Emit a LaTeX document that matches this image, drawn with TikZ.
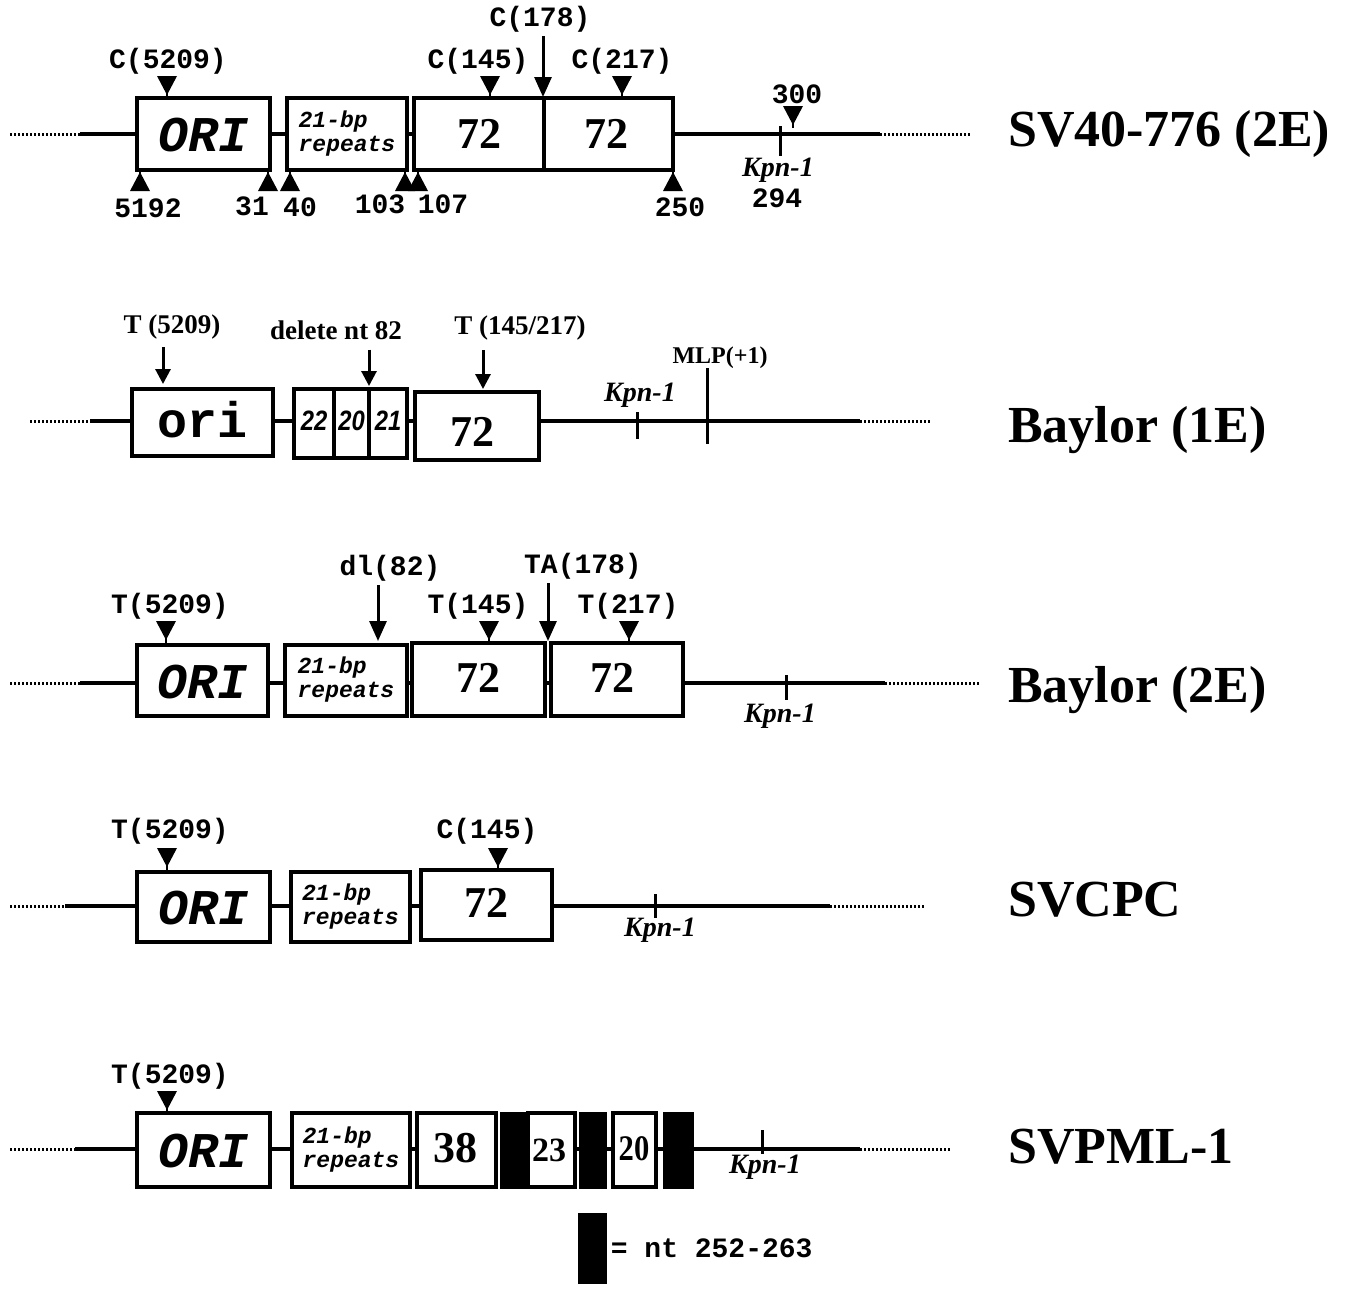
\documentclass[tikz,border=0pt]{standalone}
\usepackage{fontspec}
\setmainfont{Liberation Serif}
\newfontfamily\monofnt{Liberation Mono}
\newfontfamily\sansfnt{Liberation Sans}
\usetikzlibrary{arrows.meta}
\begin{document}
\begin{tikzpicture}[x=1pt,y=-1pt,
  box/.style={draw, line width=3.5pt, inner sep=0pt, outer sep=0pt, fill=white},
  blk/.style={draw, fill=black, line width=1pt, inner sep=0pt, outer sep=0pt},
  mainline/.style={line width=3.5pt},
  dotline/.style={line width=3pt, dash pattern=on 2pt off 2pt},
  tickl/.style={line width=3pt},
  clab/.style={font=\monofnt\bfseries\fontsize{28}{30}\selectfont, inner sep=0pt},
  tlab/.style={font=\bfseries\fontsize{27}{30}\selectfont, inner sep=0pt},
  kpn/.style={font=\bfseries\itshape\fontsize{28}{30}\selectfont, inner sep=0pt},
  oritxt/.style={font=\monofnt\bfseries\itshape\fontsize{50}{50}\selectfont},
  oriltxt/.style={font=\monofnt\bfseries\fontsize{50}{50}\selectfont},
  reptxt/.style={font=\monofnt\bfseries\itshape\fontsize{23}{24}\selectfont, align=left},
  numtxt/.style={font=\bfseries\fontsize{44}{44}\selectfont},
  cellno/.style={font=\sansfnt\bfseries\itshape\fontsize{28}{28}\selectfont, xscale=0.85},
  strainname/.style={font=\bfseries\fontsize{52}{54}\selectfont, anchor=west, inner sep=0pt},
  arr/.style={line width=3pt, -{Triangle[width=17pt,length=20pt]}},
  arrs/.style={line width=3pt, -{Triangle[width=15pt,length=15pt]}},
  dtri/.pic={\fill (-10,-22) -- (10,-22) -- (0,-3) -- cycle; \draw[line width=2pt] (0,-5) -- (0,0);},
  utri/.pic={\fill (-10,21) -- (10,21) -- (0,2) -- cycle; \draw[line width=2pt] (0,0) -- (0,4);}
]
\useasboundingbox[fill=white] (0,0) rectangle (1346,1288);

% ================= Row 1: SV40-776 (2E) =================
\node[box, minimum width=133pt, minimum height=72pt] (ori1) at (203.5,134) {};
\node[oritxt] (ori1t) at (203.5,135) {ORI};
\node[box, minimum width=120pt, minimum height=72pt] (rep1) at (347,134) {};
\node[reptxt] (rep1t) at (347,134) {21-bp\\repeats};
\node[box, minimum width=130pt, minimum height=72pt] (b72a) at (479,134) {};
\node[numtxt] (b72at) at (479,134) {72};
\node[box, minimum width=129pt, minimum height=72pt] (b72b) at (608.5,134) {};
\node[numtxt] (b72bt) at (606,134) {72};
\coordinate (r1d0) at (10,134);
\coordinate (r1s0) at (80,134);
\coordinate (r1e0) at (880,134);
\coordinate (r1e1) at (970,134);
\draw[dotline] (r1d0) -- (r1s0);
\draw[mainline] (r1s0) -- (ori1.west);
\draw[mainline] (ori1.east) -- (rep1.west);
\draw[mainline] (rep1.east) -- (b72a.west);
\draw[mainline] (b72b.east) -- (r1e0);
\draw[dotline] (r1e0) -- (r1e1);
\coordinate (k1a) at (780,126);
\coordinate (k1b) at (780,156);
\draw[tickl] (k1a) -- (k1b);
\node[kpn] (k1l) at (778,170) {Kpn-1};
\node[clab] (k1n) at (777,198) {294};
\pic at (793,128) {dtri};
\node[clab] (l300) at (797,94) {300};
% top markers
\pic at (167,98) {dtri};
\node[clab] (lc5209) at (168,61) {C(5209)};
\pic at (490,98) {dtri};
\node[clab] (lc145) at (478,61) {C(145)};
\pic at (622,98) {dtri};
\node[clab] (lc217) at (622,61) {C(217)};
\node[clab] (lc178) at (540,19) {C(178)};
\coordinate (a178) at (543,97);
\draw[arr] (lc178.south -| a178) ++(0,4) -- (a178);
% bottom markers
\pic at (140,170) {utri};
\node[clab] (n5192) at (148,208) {5192};
\pic at (268,170) {utri};
\node[clab] (n31) at (252,206) {31};
\pic at (290,170) {utri};
\node[clab] (n40) at (300,207) {40};
\pic at (405,170) {utri};
\node[clab] (n103) at (380,204) {103};
\pic at (418,170) {utri};
\node[clab] (n107) at (443,204) {107};
\pic at (673,170) {utri};
\node[clab] (n250) at (680,207) {250};
\node[strainname] (nm1) at (1008,134) {SV40-776 (2E)};

% ================= Row 2: Baylor (1E) =================
\node[box, minimum width=141pt, minimum height=67pt] (ori2) at (202.5,422.5) {};
\node[oriltxt] (ori2t) at (202.5,420) {ori};
\node[box, minimum width=40pt, minimum height=69pt] (c22) at (314,423.5) {};
\node[cellno] (c22t) at (314,421) {22};
\node[box, minimum width=35pt, minimum height=69pt] (c20) at (351.5,423.5) {};
\node[cellno] (c20t) at (351.5,421) {20};
\node[box, minimum width=38pt, minimum height=69pt] (c21) at (388,423.5) {};
\node[cellno] (c21t) at (388,421) {21};
\node[box, minimum width=124pt, minimum height=68pt] (b72c) at (477,426) {};
\node[numtxt] (b72ct) at (472,432) {72};
\coordinate (r2d0) at (30,421);
\coordinate (r2s0) at (90,421);
\coordinate (r2e0) at (860,421);
\coordinate (r2e1) at (930,421);
\draw[dotline] (r2d0) -- (r2s0);
\draw[mainline] (r2s0) -- (ori2.west |- r2s0);
\draw[mainline] (ori2.east |- r2s0) -- (c22.west |- r2s0);
\draw[mainline] (c21.east |- r2s0) -- (b72c.west |- r2s0);
\draw[mainline] (b72c.east |- r2e0) -- (r2e0);
\draw[dotline] (r2e0) -- (r2e1);
\coordinate (k2a) at (637,412);
\coordinate (k2b) at (637,439);
\draw[tickl] (k2a) -- (k2b);
\node[kpn] (k2l) at (640,395) {Kpn-1};
\coordinate (mlpa) at (707,368);
\coordinate (mlpb) at (707,444);
\draw[tickl] (mlpa) -- (mlpb);
\node[tlab, font=\bfseries\fontsize{24}{26}\selectfont] (mlpl) at (720,358) {MLP(+1)};
\node[tlab] (lt5209) at (172,327) {T (5209)};
\coordinate (a2a) at (163,384);
\draw[arrs] (lt5209.south -| a2a) ++(0,8) -- (a2a);
\node[tlab] (ldel) at (336,330) {delete nt 82};
\coordinate (a2b) at (369,386);
\draw[arrs] (ldel.south -| a2b) ++(0,10) -- (a2b);
\node[tlab] (lt145) at (520,328) {T (145/217)};
\coordinate (a2c) at (483,389);
\draw[arrs] (lt145.south -| a2c) ++(0,10) -- (a2c);
\node[strainname] (nm2) at (1008,430) {Baylor (1E)};

% ================= Row 3: Baylor (2E) =================
\node[box, minimum width=131pt, minimum height=71pt] (ori3) at (202.5,680.5) {};
\node[oritxt] (ori3t) at (202.5,682) {ORI};
\node[box, minimum width=122pt, minimum height=71pt] (rep3) at (346,680.5) {};
\node[reptxt] (rep3t) at (346,680) {21-bp\\repeats};
\node[box, minimum width=133pt, minimum height=73pt] (b72d) at (478.5,679.5) {};
\node[numtxt] (b72dt) at (478,678) {72};
\node[box, minimum width=132pt, minimum height=73pt] (b72e) at (617,679.5) {};
\node[numtxt] (b72et) at (612,678) {72};
\coordinate (r3d0) at (10,683);
\coordinate (r3s0) at (80,683);
\coordinate (r3e0) at (885,683);
\coordinate (r3e1) at (980,683);
\draw[dotline] (r3d0) -- (r3s0);
\draw[mainline] (r3s0) -- (ori3.west |- r3s0);
\draw[mainline] (ori3.east |- r3s0) -- (rep3.west |- r3s0);
\draw[mainline] (rep3.east |- r3s0) -- (b72d.west |- r3s0);
\draw[mainline] (b72d.east |- r3s0) -- (b72e.west |- r3s0);
\draw[mainline] (b72e.east |- r3s0) -- (r3e0);
\draw[dotline] (r3e0) -- (r3e1);
\coordinate (k3a) at (786,675);
\coordinate (k3b) at (786,700);
\draw[tickl] (k3a) -- (k3b);
\node[kpn] (k3l) at (780,716) {Kpn-1};
\pic at (166,643) {dtri};
\node[clab] (l3t5209) at (170,606) {T(5209)};
\node[clab] (ldl82) at (390,568) {dl(82)};
\coordinate (a3a) at (378,641);
\draw[arr] (ldl82.south -| a3a) ++(0,4) -- (a3a);
\pic at (489,643) {dtri};
\node[clab] (l3t145) at (478,606) {T(145)};
\node[clab] (lta178) at (583,566) {TA(178)};
\coordinate (a3b) at (548,641);
\draw[arr] (lta178.south -| a3b) ++(0,4) -- (a3b);
\pic at (629,643) {dtri};
\node[clab] (l3t217) at (628,606) {T(217)};
\node[strainname] (nm3) at (1008,690) {Baylor (2E)};

% ================= Row 4: SVCPC =================
\node[box, minimum width=133pt, minimum height=70pt] (ori4) at (203.5,907) {};
\node[oritxt] (ori4t) at (203.5,908) {ORI};
\node[box, minimum width=119pt, minimum height=70pt] (rep4) at (350.5,907) {};
\node[reptxt] (rep4t) at (350.5,907) {21-bp\\repeats};
\node[box, minimum width=131pt, minimum height=70pt] (b72f) at (486.5,905) {};
\node[numtxt] (b72ft) at (486,903) {72};
\coordinate (r4d0) at (10,906);
\coordinate (r4s0) at (65,906);
\coordinate (r4e0) at (830,906);
\coordinate (r4e1) at (925,906);
\draw[dotline] (r4d0) -- (r4s0);
\draw[mainline] (r4s0) -- (ori4.west |- r4s0);
\draw[mainline] (ori4.east |- r4s0) -- (rep4.west |- r4s0);
\draw[mainline] (rep4.east |- r4s0) -- (b72f.west |- r4s0);
\draw[mainline] (b72f.east |- r4s0) -- (r4e0);
\draw[dotline] (r4e0) -- (r4e1);
\coordinate (k4a) at (655,894);
\coordinate (k4b) at (655,918);
\draw[tickl] (k4a) -- (k4b);
\node[kpn] (k4l) at (660,930) {Kpn-1};
\pic at (167,870) {dtri};
\node[clab] (l4t5209) at (170,831) {T(5209)};
\pic at (498,870) {dtri};
\node[clab] (l4c145) at (487,831) {C(145)};
\node[strainname] (nm4) at (1008,900) {SVCPC};

% ================= Row 5: SVPML-1 =================
\node[box, minimum width=133pt, minimum height=74pt] (ori5) at (203.5,1150) {};
\node[oritxt] (ori5t) at (203.5,1151) {ORI};
\node[box, minimum width=118pt, minimum height=74pt] (rep5) at (351,1150) {};
\node[reptxt] (rep5t) at (351,1150) {21-bp\\repeats};
\node[box, minimum width=79pt, minimum height=74pt] (b38) at (456.5,1150) {};
\node[numtxt] (b38t) at (455,1148) {38};
\node[blk, minimum width=28pt, minimum height=76pt] (bk1) at (514,1150) {};
\node[box, minimum width=47pt, minimum height=74pt] (b23) at (551.5,1150) {};
\node[numtxt, font=\bfseries\fontsize{34}{34}\selectfont] (b23t) at (549,1150) {23};
\node[blk, minimum width=27pt, minimum height=76pt] (bk2) at (592.5,1150) {};
\node[box, minimum width=43pt, minimum height=74pt] (b20) at (634.5,1150) {};
\node[numtxt, font=\bfseries\fontsize{36}{36}\selectfont, xscale=0.85] (b20t) at (634,1149) {20};
\node[blk, minimum width=30pt, minimum height=76pt] (bk3) at (678,1150) {};
\coordinate (r5d0) at (10,1149);
\coordinate (r5s0) at (75,1149);
\coordinate (r5e0) at (860,1149);
\coordinate (r5e1) at (950,1149);
\draw[dotline] (r5d0) -- (r5s0);
\draw[mainline] (r5s0) -- (ori5.west |- r5s0);
\draw[mainline] (ori5.east |- r5s0) -- (rep5.west |- r5s0);
\draw[mainline] (rep5.east |- r5s0) -- (b38.west |- r5s0);
\draw[mainline] (b23.east |- r5s0) -- (bk2.west |- r5s0);
\draw[mainline] (bk2.east |- r5s0) -- (b20.west |- r5s0);
\draw[mainline] (b20.east |- r5s0) -- (bk3.west |- r5s0);
\draw[mainline] (bk3.east |- r5s0) -- (r5e0);
\draw[dotline] (r5e0) -- (r5e1);
\coordinate (k5a) at (762,1130);
\coordinate (k5b) at (762,1154);
\draw[tickl] (k5a) -- (k5b);
\node[kpn] (k5l) at (765,1167) {Kpn-1};
\pic at (167,1113) {dtri};
\node[clab] (l5t5209) at (170,1076) {T(5209)};
\node[strainname] (nm5) at (1008,1147) {SVPML-1};

% legend
\node[blk, minimum width=28pt, minimum height=70pt] (bkL) at (592,1248) {};
\node[clab, anchor=west] (legt) at (bkL.east) {\,= nt 252-263};
\end{tikzpicture}
\end{document}
